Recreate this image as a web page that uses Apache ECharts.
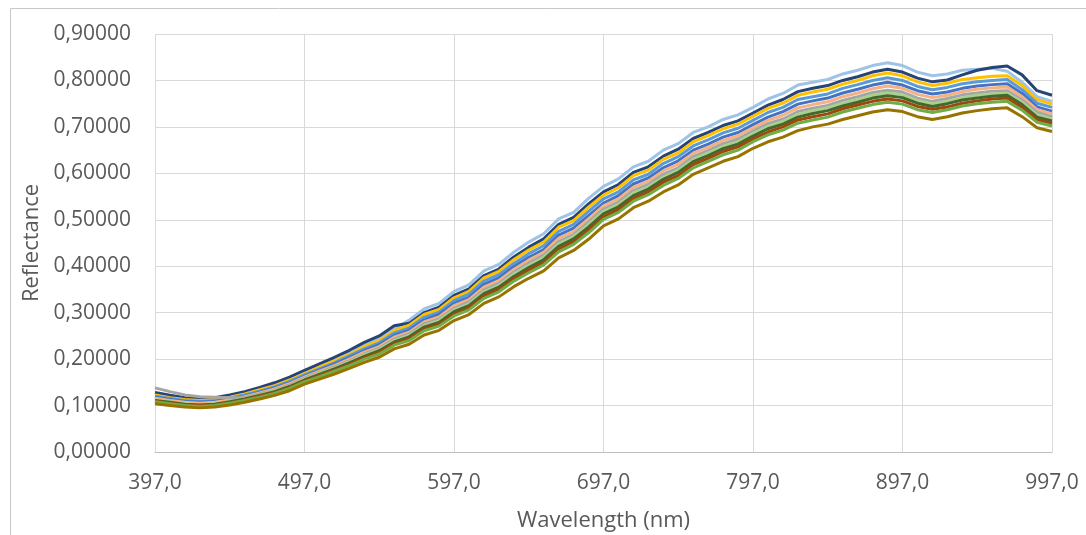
<!DOCTYPE html>
<html>
<head>
<meta charset="utf-8">
<script src="https://cdn.jsdelivr.net/npm/echarts@6/dist/echarts.min.js"></script>
<style>
  html, body { margin: 0; padding: 0; background: #fff; }
  #main { width: 1086px; height: 535px; }
</style>
</head>
<body>
<div id="main"></div>
<script>
// wavelengths (nm), 10 nm steps
var wavelengths = [397, 407, 417, 427, 437, 447, 457, 467, 477, 487, 497, 507, 517, 527, 537, 547, 557, 567, 577, 587,
    597, 607, 617, 627, 637, 647, 657, 667, 677, 687, 697, 707, 717, 727, 737, 747, 757, 767, 777, 787,
    797, 807, 817, 827, 837, 847, 857, 867, 877, 887, 897, 907, 917, 927, 937, 947, 957, 967, 977, 987, 997];

var yTicks = [0, 0.1, 0.2, 0.3, 0.4, 0.5, 0.6, 0.7, 0.8, 0.9];

// reflectance per sample
var lightBlue = [.117, .112, .108, .106, .108, .113, .127, .136, .145, .157, .172, .185, .199, .214, .230, .244, .265, .284, .308, .320,
    .346, .360, .390, .404, .430, .452, .470, .502, .516, .546, .572, .588, .614, .626, .650, .664, .688, .700, .716, .726,
    .742, .760, .772, .790, .796, .802, .814, .822, .832, .838, .832, .818, .810, .814, .822, .824, .826, .820, .796, .765, .755];
var navy = [.128, .122, .117, .115, .117, .123, .130, .139, .149, .161, .176, .190, .204, .219, .236, .250, .272, .277, .300, .312,
    .337, .351, .380, .394, .420, .441, .459, .490, .505, .534, .560, .576, .602, .614, .637, .652, .675, .688, .703, .713,
    .730, .747, .759, .776, .783, .789, .800, .808, .818, .824, .818, .805, .797, .801, .812, .822, .828, .831, .812, .778, .768];
var yellow = [.123, .117, .113, .111, .113, .118, .125, .134, .143, .155, .169, .183, .196, .210, .227, .240, .261, .273, .296, .307,
    .332, .346, .375, .389, .414, .435, .452, .484, .498, .527, .553, .569, .595, .607, .630, .644, .668, .681, .696, .706,
    .723, .740, .751, .768, .775, .781, .792, .800, .810, .816, .810, .797, .789, .794, .802, .806, .809, .810, .789, .759, .749];
var blue = [.120, .115, .111, .109, .111, .116, .123, .131, .140, .152, .166, .179, .192, .207, .222, .235, .256, .267, .290, .301,
    .326, .340, .368, .382, .406, .427, .444, .475, .490, .518, .545, .560, .586, .598, .621, .636, .659, .672, .687, .697,
    .714, .731, .742, .759, .765, .771, .783, .791, .800, .806, .800, .787, .780, .785, .793, .797, .800, .802, .780, .751, .742];
var midBlue = [.118, .113, .109, .107, .109, .114, .120, .129, .138, .149, .163, .176, .189, .203, .218, .231, .251, .262, .284, .296,
    .320, .333, .361, .375, .399, .419, .436, .467, .482, .509, .536, .552, .577, .590, .612, .627, .650, .663, .678, .688,
    .705, .721, .733, .749, .756, .762, .773, .781, .790, .796, .790, .778, .771, .775, .783, .788, .791, .793, .772, .743, .734];
var salmon = [.116, .111, .107, .105, .107, .112, .119, .127, .136, .147, .161, .174, .186, .200, .215, .227, .247, .258, .280, .291,
    .315, .328, .355, .369, .393, .413, .430, .460, .475, .502, .530, .545, .570, .583, .605, .620, .643, .656, .671, .681,
    .698, .714, .725, .741, .748, .754, .765, .773, .782, .788, .783, .770, .763, .768, .776, .781, .784, .786, .765, .737, .728];
var gray = [.138, .130, .123, .119, .118, .117, .117, .125, .133, .144, .159, .171, .183, .196, .211, .223, .243, .254, .276, .286,
    .309, .323, .349, .363, .387, .407, .424, .453, .468, .495, .523, .538, .563, .576, .598, .612, .636, .649, .664, .674,
    .691, .707, .717, .733, .740, .746, .757, .765, .774, .779, .775, .762, .755, .761, .769, .773, .777, .778, .758, .731, .722];
var lightGreen = [.113, .108, .104, .102, .104, .109, .115, .123, .132, .142, .157, .169, .181, .194, .209, .221, .240, .251, .272, .283,
    .306, .319, .345, .359, .383, .402, .419, .448, .464, .490, .518, .533, .558, .571, .592, .607, .630, .644, .658, .668,
    .686, .701, .712, .727, .735, .741, .751, .759, .768, .773, .769, .757, .750, .755, .763, .768, .771, .773, .753, .726, .717];
var darkGreen = [.111, .107, .103, .101, .103, .108, .114, .122, .130, .141, .155, .167, .179, .192, .206, .218, .237, .248, .269, .279,
    .302, .315, .341, .355, .378, .397, .414, .443, .459, .484, .513, .528, .552, .566, .587, .602, .625, .638, .653, .663,
    .680, .696, .706, .721, .729, .735, .745, .753, .762, .767, .763, .751, .744, .750, .758, .762, .766, .768, .748, .721, .713];
var brown = [.110, .105, .102, .100, .102, .106, .112, .120, .128, .139, .153, .165, .176, .189, .203, .215, .234, .244, .265, .275,
    .297, .311, .336, .350, .373, .392, .408, .437, .453, .478, .507, .522, .546, .560, .581, .595, .619, .632, .647, .657,
    .674, .689, .700, .715, .722, .728, .739, .747, .755, .760, .756, .744, .738, .743, .751, .756, .760, .762, .742, .716, .708];
var green = [.108, .104, .100, .098, .100, .105, .111, .118, .126, .137, .151, .162, .174, .186, .200, .211, .230, .240, .261, .271,
    .293, .306, .331, .345, .368, .386, .403, .431, .447, .472, .501, .516, .540, .554, .574, .589, .612, .626, .640, .650,
    .668, .683, .693, .708, .715, .721, .732, .740, .748, .753, .749, .737, .731, .737, .745, .750, .753, .755, .736, .710, .702];
var darkYellow = [.104, .100, .097, .095, .097, .101, .107, .114, .122, .132, .146, .157, .168, .180, .193, .204, .222, .232, .252, .262,
    .283, .296, .320, .334, .356, .374, .390, .418, .434, .458, .487, .502, .526, .540, .560, .575, .598, .612, .626, .636,
    .654, .668, .678, .692, .700, .706, .716, .724, .732, .737, .733, .722, .716, .722, .730, .735, .739, .741, .722, .698, .690];

var samples = [
    { name: 'S1', data: lightBlue, color: '#9DC3E6' },
    { name: 'S2', data: navy, color: '#264478' },
    { name: 'S3', data: yellow, color: '#FFC000' },
    { name: 'S4', data: blue, color: '#5B9BD5' },
    { name: 'S5', data: midBlue, color: '#4472C4' },
    { name: 'S6', data: salmon, color: '#F4B183' },
    { name: 'S7', data: gray, color: '#A5A5A5' },
    { name: 'S8', data: lightGreen, color: '#A9D18E' },
    { name: 'S9', data: darkGreen, color: '#43682B' },
    { name: 'S10', data: brown, color: '#9E480E' },
    { name: 'S11', data: green, color: '#70AD47' },
    { name: 'S12', data: darkYellow, color: '#997300' }
];

var labelFont = 'Open Sans';
var textColor = '#595959';
var gridColor = '#D9D9D9';

var categories = wavelengths.map(function(w) {
    return w.toFixed(1).replace('.', ',');
});

var myChart = echarts.init(document.getElementById('main'), null, { renderer: 'canvas' });

var option = {
    animation: false,
    backgroundColor: '#fff',
    graphic: [{
        type: 'rect',
        shape: { x: 10.5, y: 8.5, width: 1200, height: 700 },
        style: { fill: 'none', stroke: '#C8C8C8', lineWidth: 1 },
        silent: true
    }],
    grid: {
        left: 155,
        right: 34,
        top: 34,
        bottom: 83,
        containLabel: false,
        outerBoundsMode: 'none'
    },
    xAxis: {
        type: 'category',
        data: categories,
        boundaryGap: false,
        name: 'Wavelength (nm)',
        nameLocation: 'middle',
        nameGap: 58,
        nameTextStyle: { color: textColor, fontSize: 22, fontFamily: labelFont },
        axisLine: { lineStyle: { color: '#BFBFBF', width: 1 } },
        axisTick: { show: false },
        axisLabel: {
            interval: 9,
            margin: 21,
            color: textColor,
            fontSize: 21,
            fontFamily: labelFont
        },
        splitLine: { show: true, interval: 9, lineStyle: { color: gridColor, width: 1 } }
    },
    yAxis: {
        type: 'value',
        min: yTicks[0],
        max: yTicks[yTicks.length - 1],
        interval: 0.1,
        name: 'Reflectance',
        nameLocation: 'middle',
        nameGap: 111,
        nameTextStyle: { color: textColor, fontSize: 22, fontFamily: labelFont },
        axisLine: { show: false },
        axisTick: { show: false },
        axisLabel: {
            margin: 24,
            color: textColor,
            fontSize: 21,
            fontFamily: labelFont,
            formatter: function(v) {
                return v.toFixed(5).replace('.', ',');
            }
        },
        splitLine: { lineStyle: { color: gridColor, width: 1 } }
    },
    series: samples.map(function(s) {
        return {
            name: s.name,
            type: 'line',
            data: s.data,
            showSymbol: false,
            symbol: 'none',
            smooth: false,
            lineStyle: { color: s.color, width: 3 },
            itemStyle: { color: s.color }
        };
    })
};

myChart.setOption(option);
</script>
</body>
</html>
